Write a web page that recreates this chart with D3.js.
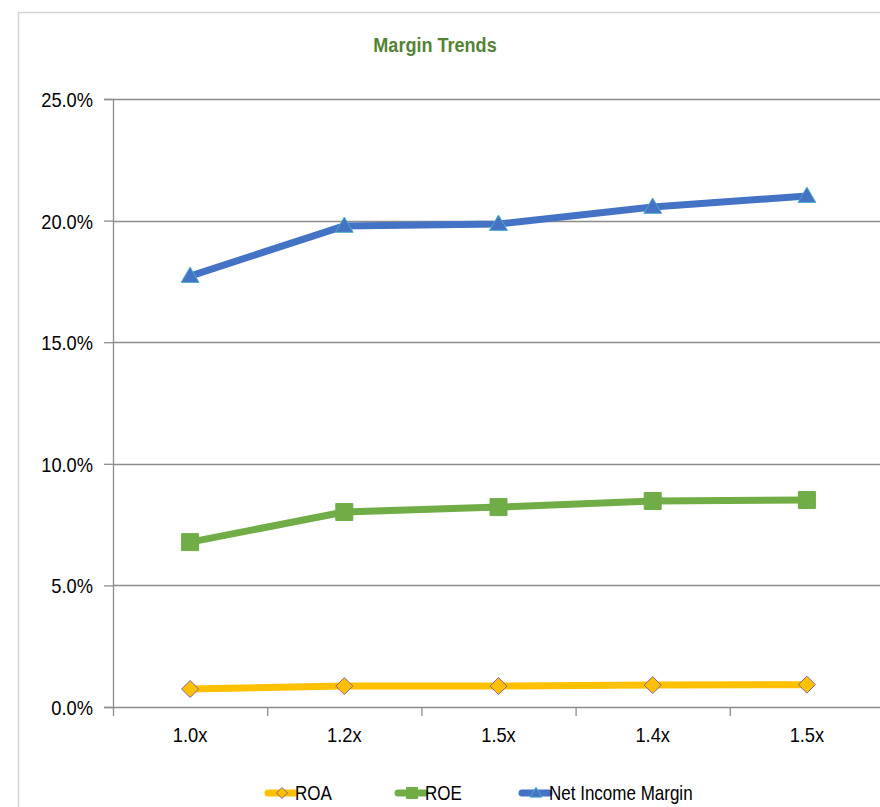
<!DOCTYPE html>
<html>
<head>
<meta charset="utf-8">
<script src="https://cdn.jsdelivr.net/npm/d3@7"></script>
<style>
  body { margin: 0; background: #fff; }
  svg text { font-family: "Liberation Sans", Arial, sans-serif; }
</style>
</head>
<body>
<div id="graf"></div>
<script>
// Datos
const categorias = ["1.0x", "1.2x", "1.5x", "1.4x", "1.5x"]
const roa = [0.74, 0.86, 0.86, 0.90, 0.92]
const roe = [6.78, 8.02, 8.22, 8.47, 8.51]
const nim = [17.72, 19.78, 19.86, 20.56, 21.01]
const yTicks = [0, 5, 10, 15, 20, 25]

const series = [
  { name: "ROA", values: roa, color: "#FFC000", marker: "diamond", stroke: "#8064A2" },
  { name: "ROE", values: roe, color: "#70AD47", marker: "square", stroke: "#70AD47" },
  { name: "Net Income Margin", values: nim, color: "#4472C4", marker: "triangle", stroke: "#4BACC6" },
]

// Texto estrecho (imita Arial Narrow)
const narrow = (sel, s) => {
  sel.each(function () {
    const t = d3.select(this)
    const x = +t.attr("x") || 0
    const y = +t.attr("y") || 0
    t.attr("x", null).attr("y", null)
      .attr("transform", `translate(${x}, ${y}) scale(${s}, 1)`)
  })
}

const draw = () => {
  const anchoTotal = 880
  const altoTotal = 807
  const margins = { top: 99, right: -4, bottom: 100, left: 113 }
  const ancho = anchoTotal - margins.left - margins.right
  const alto = altoTotal - margins.top - margins.bottom

  const svg = d3.select("#graf")
    .append("svg")
    .attr("width", anchoTotal)
    .attr("height", altoTotal)

  // Marco
  svg.append("path")
    .attr("d", `M18.5,${altoTotal} V12.5 H${anchoTotal}`)
    .attr("fill", "none")
    .attr("stroke", "#d4d4d4")
    .attr("stroke-width", 1.5)

  // Titulo
  svg.append("text")
    .attr("x", 435)
    .attr("y", 52)
    .attr("text-anchor", "middle")
    .attr("fill", "#548235")
    .style("font-size", "21px")
    .style("font-weight", "bold")
    .text("Margin Trends")
    .call(narrow, 0.86)

  const idx = d3.range(categorias.length)
  const x = d3.scaleBand().domain(idx).range([0, ancho])
  const y = d3.scaleLinear().domain([0, 25]).range([alto, 0])

  const chart = svg.append("g")
    .attr("transform", `translate(${margins.left}, ${margins.top})`)

  // Lineas de cuadricula
  chart.append("g")
    .selectAll("line")
    .data(yTicks.filter((d) => d > 0))
    .join("line")
    .attr("x1", 0)
    .attr("x2", ancho)
    .attr("y1", (d) => Math.round(y(d)) + 0.5)
    .attr("y2", (d) => Math.round(y(d)) + 0.5)
    .attr("stroke", "#8c8c8c")
    .attr("stroke-width", 1.3)

  // Eje Y
  const yAxis = d3.axisLeft(y)
    .tickValues(yTicks)
    .tickSize(9)
    .tickPadding(11)
    .tickFormat((d) => d.toFixed(1) + "%")
  const yAxisGroup = chart.append("g").call(yAxis)
  yAxisGroup.select(".domain").attr("stroke", "#8c8c8c").attr("stroke-width", 1.3)
  yAxisGroup.selectAll(".tick line").attr("stroke", "#8c8c8c").attr("stroke-width", 1.3)
  yAxisGroup.selectAll(".tick text")
    .attr("fill", "#000")
    .attr("dy", "0.36em")
    .style("font-size", "21px")
    .call(narrow, 0.87)

  // Eje X
  const xAxisGroup = chart.append("g").attr("transform", `translate(0, ${alto})`)
  xAxisGroup.append("line")
    .attr("x1", 0).attr("x2", ancho)
    .attr("y1", 0.5).attr("y2", 0.5)
    .attr("stroke", "#8c8c8c").attr("stroke-width", 1.3)
  xAxisGroup.selectAll(".sep")
    .data(d3.range(categorias.length + 1))
    .join("line")
    .attr("class", "sep")
    .attr("x1", (d) => d * x.step() + 0.5)
    .attr("x2", (d) => d * x.step() + 0.5)
    .attr("y1", 0)
    .attr("y2", 9)
    .attr("stroke", "#8c8c8c")
    .attr("stroke-width", 1.3)
  xAxisGroup.selectAll(".lbl")
    .data(idx)
    .join("text")
    .attr("class", "lbl")
    .attr("x", (d) => x(d) + x.bandwidth() / 2)
    .attr("y", 35)
    .attr("text-anchor", "middle")
    .attr("fill", "#000")
    .style("font-size", "21px")
    .text((d) => categorias[d])
    .call(narrow, 0.87)

  const markerPath = (tipo, s) => {
    if (tipo === "diamond") return `M0,${-s} L${s},0 L0,${s} L${-s},0 Z`
    if (tipo === "square") return `M${-s},${-s} H${s} V${s} H${-s} Z`
    return `M0,${-s * 1.05} L${s * 1.05},${s * 0.75} L${-s * 1.05},${s * 0.75} Z`
  }

  const line = d3.line()
    .x((d, i) => x(i) + x.bandwidth() / 2)
    .y((d) => y(d))

  series.forEach((s) => {
    const g = chart.append("g")
    g.append("path")
      .datum(s.values)
      .attr("d", line)
      .attr("fill", "none")
      .attr("stroke", s.color)
      .attr("stroke-width", 7)
      .attr("stroke-linejoin", "round")
    g.selectAll("path.mk")
      .data(s.values)
      .join("path")
      .attr("class", "mk")
      .attr("transform", (d, i) => `translate(${x(i) + x.bandwidth() / 2}, ${y(d)})`)
      .attr("d", markerPath(s.marker, 8.5))
      .attr("fill", s.color)
      .attr("stroke", s.stroke)
      .attr("stroke-width", 1)
  })

  // Leyenda
  const legendPos = [268, 398, 522]
  const legend = svg.append("g")
  series.forEach((s, i) => {
    const lg = legend.append("g").attr("transform", `translate(${legendPos[i]}, 793)`)
    lg.append("line")
      .attr("x1", 0).attr("x2", 27)
      .attr("y1", 0).attr("y2", 0)
      .attr("stroke", s.color)
      .attr("stroke-width", 7)
      .attr("stroke-linecap", "round")
    lg.append("path")
      .attr("transform", "translate(14, 0)")
      .attr("d", markerPath(s.marker, 5.5))
      .attr("fill", s.color)
      .attr("stroke", s.stroke)
      .attr("stroke-width", 1)
    lg.append("text")
      .attr("x", 27)
      .attr("y", 7)
      .attr("fill", "#000")
      .style("font-size", "21px")
      .text(s.name)
      .call(narrow, 0.81)
  })
}

draw()
</script>
</body>
</html>
